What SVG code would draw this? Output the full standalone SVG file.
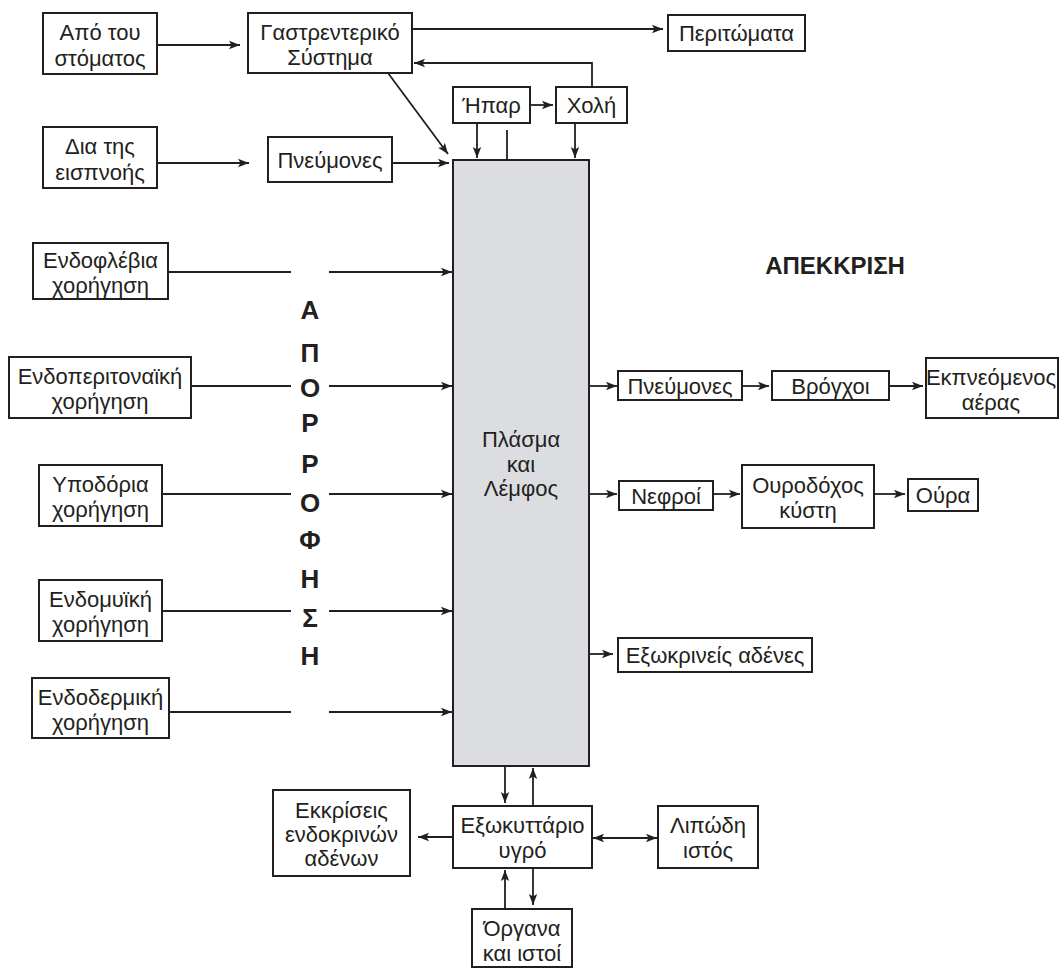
<svg xmlns="http://www.w3.org/2000/svg" width="1059" height="968" viewBox="0 0 1059 968">
<defs>
<marker id="ah" markerUnits="userSpaceOnUse" markerWidth="12" markerHeight="10" refX="11" refY="5" orient="auto-start-reverse">
<path d="M0,0.8 L11,5 L0,9.2 L2.5,5 Z" fill="#231f20"/>
</marker>
<style>
rect.b{fill:#fff;stroke:#231f20;stroke-width:2}
rect.m{fill:#dcdde0;stroke:#231f20;stroke-width:2}
text{font-family:"Liberation Sans",Arial,sans-serif;font-size:22px;fill:#231f20;text-anchor:middle}
text.v{font-weight:bold;font-size:26px}
text.h{font-weight:bold;font-size:24px}
#conn path,#conn line{stroke:#231f20;stroke-width:1.8;fill:none}
.a{marker-end:url(#ah)}
.aa{marker-start:url(#ah);marker-end:url(#ah)}
</style>
</defs>
<rect width="1059" height="968" fill="#fff"/>

<g id="n-mouth"><rect class="b" x="43" y="13" width="114" height="61"/><text x="100" y="39.5">Από του</text><text x="100" y="65.5">στόματος</text></g>
<g id="n-gi"><rect class="b" x="248" y="13" width="164" height="60"/><text x="330" y="39.5">Γαστρεντερικό</text><text x="330" y="64.5">Σύστημα</text></g>
<g id="n-feces"><rect class="b" x="668" y="15" width="137" height="36"/><text x="736.5" y="41">Περιτώματα</text></g>
<g id="n-inhal"><rect class="b" x="43" y="127" width="114" height="61"/><text x="100" y="153.5">Δια της</text><text x="100" y="179.5">εισπνοής</text></g>
<g id="n-lungs-in"><rect class="b" x="268" y="137" width="124" height="45"/><text x="330" y="167.5">Πνεύμονες</text></g>
<g id="n-liver"><rect class="b" x="453" y="87" width="77" height="36"/><text x="491.5" y="113">Ήπαρ</text></g>
<g id="n-bile"><rect class="b" x="556" y="87" width="71" height="36"/><text x="591.5" y="113">Χολή</text></g>
<g id="n-plasma"><rect class="m" x="453" y="160" width="136" height="606"/><text x="521" y="447">Πλάσμα</text><text x="521" y="472">και</text><text x="521" y="496">Λέμφος</text></g>
<g id="n-iv"><rect class="b" x="33" y="243" width="135" height="56"/><text x="100.5" y="267.5">Ενδοφλέβια</text><text x="100.5" y="292.5">χορήγηση</text></g>
<g id="n-ip"><rect class="b" x="9" y="357" width="182" height="61"/><text x="100" y="383.5">Ενδοπεριτοναϊκή</text><text x="100" y="408.5">χορήγηση</text></g>
<g id="n-sc"><rect class="b" x="39" y="465" width="123" height="61"/><text x="100.5" y="491.5">Υποδόρια</text><text x="100.5" y="516.5">χορήγηση</text></g>
<g id="n-im"><rect class="b" x="39" y="580" width="123" height="61"/><text x="100.5" y="606.5">Ενδομυϊκή</text><text x="100.5" y="631.5">χορήγηση</text></g>
<g id="n-td"><rect class="b" x="32" y="678" width="137" height="60"/><text x="100.5" y="704.5">Ενδοδερμική</text><text x="100.5" y="729.5">χορήγηση</text></g>
<g id="n-lungs-out"><rect class="b" x="618" y="371" width="124" height="29"/><text x="680" y="393.5">Πνεύμονες</text></g>
<g id="n-bronchi"><rect class="b" x="772" y="371" width="117" height="29"/><text x="830.5" y="393.5">Βρόγχοι</text></g>
<g id="n-air"><rect class="b" x="926" y="358" width="132" height="60"/><text x="991" y="384.5">Εκπνεόμενος</text><text x="991" y="409.5">αέρας</text></g>
<g id="n-kidneys"><rect class="b" x="619" y="481" width="94" height="29"/><text x="666" y="503.5">Νεφροί</text></g>
<g id="n-bladder"><rect class="b" x="742" y="465" width="132" height="63"/><text x="808" y="492.5">Ουροδόχος</text><text x="808" y="517.5">κύστη</text></g>
<g id="n-urine"><rect class="b" x="908" y="479" width="70" height="32"/><text x="943" y="503">Ούρα</text></g>
<g id="n-exo"><rect class="b" x="618" y="638" width="194" height="34"/><text x="715" y="663">Εξωκρινείς αδένες</text></g>
<g id="n-endo"><rect class="b" x="273" y="790" width="137" height="86"/><text x="341.5" y="817.5">Εκκρίσεις</text><text x="341.5" y="841.5">ενδοκρινών</text><text x="341.5" y="865.5">αδένων</text></g>
<g id="n-ecf"><rect class="b" x="453" y="806" width="139" height="62"/><text x="522.5" y="832.5">Εξωκυττάριο</text><text x="522.5" y="857.5">υγρό</text></g>
<g id="n-fat"><rect class="b" x="658" y="806" width="100" height="62"/><text x="708" y="832.5">Λιπώδη</text><text x="708" y="857.5">ιστός</text></g>
<g id="n-organs"><rect class="b" x="472" y="909" width="100" height="58"/><text x="522" y="936">Όργανα</text><text x="522" y="961">και ιστοί</text></g>

<g id="label-absorption">
<text class="v" x="310" y="319">Α</text><text class="v" x="310" y="362">Π</text><text class="v" x="310" y="397">Ο</text><text class="v" x="310" y="432">Ρ</text><text class="v" x="310" y="473">Ρ</text><text class="v" x="310" y="512">Ο</text><text class="v" x="310" y="549">Φ</text><text class="v" x="310" y="588">Η</text><text class="v" x="310" y="627">Σ</text><text class="v" x="310" y="665">Η</text>
</g>
<g id="label-excretion"><text class="h" x="835" y="274">ΑΠΕΚΚΡΙΣΗ</text></g>

<g id="conn">
<path class="a" d="M157,45 H240"/>
<path class="a" d="M412,29 H663"/>
<path class="a" d="M592,87 V63 H414"/>
<path class="a" d="M157,163 H249"/>
<path class="a" d="M392,163 H449"/>
<path class="a" d="M388,73 L448,154"/>
<path class="a" d="M530,105 H553"/>
<path class="a" d="M477,123 V158"/>
<path d="M507,130 V160"/>
<path class="a" d="M575,123 V158"/>
<path d="M168,272 H291"/><path class="a" d="M329,272 H452"/>
<path d="M191,386 H291"/><path class="a" d="M329,386 H452"/>
<path d="M162,494 H291"/><path class="a" d="M329,494 H452"/>
<path d="M162,611 H291"/><path class="a" d="M329,611 H452"/>
<path d="M169,712 H291"/><path class="a" d="M329,712 H452"/>
<path class="a" d="M589,386 H617"/>
<path class="a" d="M742,386 H769"/>
<path class="a" d="M889,386 H923"/>
<path class="a" d="M589,494 H617"/>
<path class="a" d="M713,494 H740"/>
<path class="a" d="M874,494 H905"/>
<path class="a" d="M589,654 H613"/>
<path class="a" d="M505,766 V803"/>
<path class="a" d="M533,806 V768"/>
<path class="a" d="M453,837 H418"/>
<path class="aa" d="M593,838 H657"/>
<path class="a" d="M505,909 V870"/>
<path class="a" d="M533,868 V905"/>
</g>
</svg>
